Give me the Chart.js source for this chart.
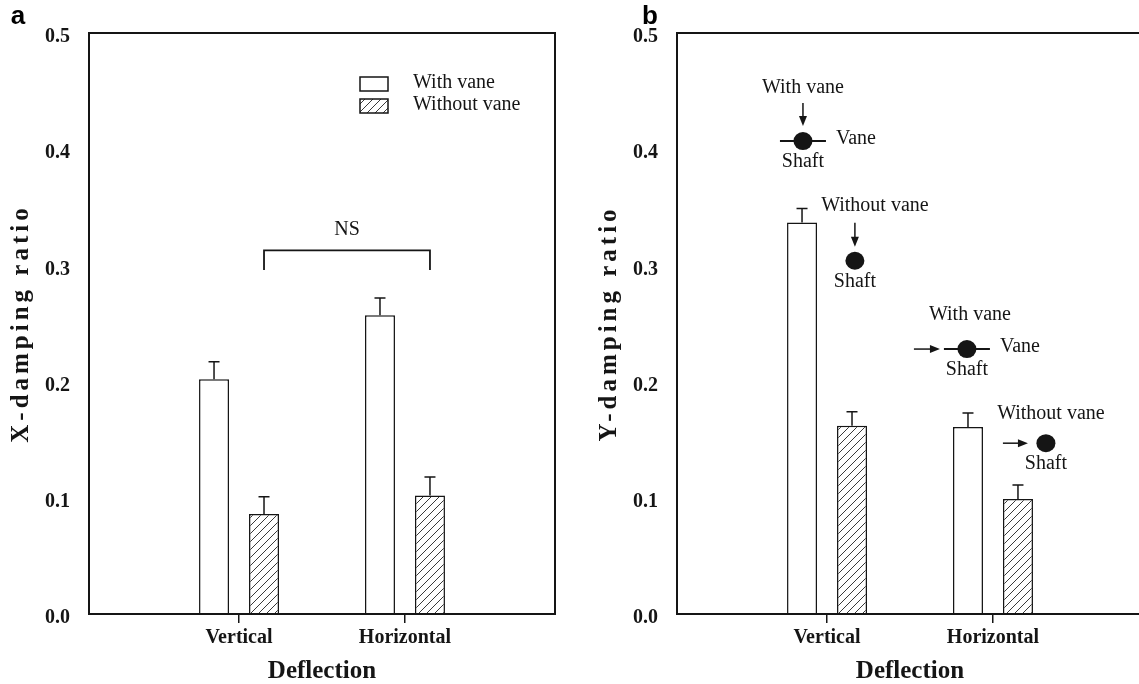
<!DOCTYPE html>
<html>
<head>
<meta charset="utf-8">
<script src="https://cdn.jsdelivr.net/npm/chart.js@4.4.0/dist/chart.umd.min.js"></script>
<style>
  html, body { margin: 0; padding: 0; background: #fff; overflow: hidden; width: 1139px; height: 684px; position: relative; }
  .panel { position: absolute; top: 0; width: 570px; height: 684px; }
  #wa { left: 0; }
  #wb { left: 588px; }
</style>
</head>
<body>
<div class="panel" id="wa"><canvas id="chartA" width="570" height="684"></canvas></div>
<div class="panel" id="wb"><canvas id="chartB" width="570" height="684"></canvas></div>
<script>
// categories and their positions on the x scale
var categories = ['Vertical', 'Horizontal'];
var catPos = [1, 2];

// panel a: X-damping ratio
var xWithVane = [0.202, 0.257];
var xWithVaneErr = [0.015, 0.015];
var xWithoutVane = [0.086, 0.102];
var xWithoutVaneErr = [0.015, 0.016];

// panel b: Y-damping ratio
var yWithVane = [0.337, 0.161];
var yWithVaneErr = [0.012, 0.012];
var yWithoutVane = [0.162, 0.099];
var yWithoutVaneErr = [0.012, 0.012];

var seriesNames = ['With vane', 'Without vane'];
var yTickStep = 0.1;

var SERIF = "'Liberation Serif', 'Times New Roman', serif";
var INK = '#151515';
Chart.defaults.color = INK;

function hatchPattern() {
    var c = document.createElement('canvas');
    c.width = 8; c.height = 8;
    var g = c.getContext('2d');
    g.fillStyle = '#fff';
    g.fillRect(0, 0, 8, 8);
    g.strokeStyle = '#3a3a3a';
    g.lineWidth = 1;
    g.beginPath();
    g.moveTo(-1, 9); g.lineTo(9, -1);
    g.moveTo(-5, 5); g.lineTo(5, -5);
    g.moveTo(3, 13); g.lineTo(13, 3);
    g.stroke();
    return g.createPattern(c, 'repeat');
}

function pts(vals) {
    return vals.map(function (v, i) { return { x: catPos[i], y: v }; });
}

// frame around the plot area
var frame = {
    id: 'frame',
    afterDraw: function (chart) {
        var a = chart.chartArea, ctx = chart.ctx;
        ctx.save();
        ctx.strokeStyle = INK;
        ctx.lineWidth = 2;
        ctx.strokeRect(a.left, a.top, a.right - a.left, a.bottom - a.top);
        ctx.restore();
    }
};

var errorBars = {
    id: 'errorBars',
    afterDatasetsDraw: function (chart) {
        var ctx = chart.ctx, ys = chart.scales.y;
        chart.data.datasets.forEach(function (ds, i) {
            chart.getDatasetMeta(i).data.forEach(function (bar, j) {
                var top = ys.getPixelForValue(ds.data[j].y + ds.errors[j]);
                ctx.save();
                ctx.strokeStyle = INK;
                ctx.lineWidth = 1.5;
                ctx.beginPath();
                ctx.moveTo(bar.x, bar.y);
                ctx.lineTo(bar.x, top);
                ctx.moveTo(bar.x - 5.5, top);
                ctx.lineTo(bar.x + 5.5, top);
                ctx.stroke();
                ctx.restore();
            });
        });
    }
};

// y title drawn by hand so it can be letter-spaced like the original
function yTitle(text) {
    return {
        id: 'yTitle',
        afterDraw: function (chart) {
            var a = chart.chartArea, ctx = chart.ctx;
            ctx.save();
            ctx.translate(22, (a.top + a.bottom) / 2);
            ctx.rotate(-Math.PI / 2);
            ctx.fillStyle = INK;
            ctx.font = 'bold 25px ' + SERIF;
            if ('letterSpacing' in ctx) ctx.letterSpacing = '4px';
            ctx.textAlign = 'center';
            ctx.textBaseline = 'middle';
            ctx.fillText(text, 0, 0);
            ctx.restore();
        }
    };
}

function panelLetter(letter, x) {
    return {
        id: 'letter',
        afterDraw: function (chart) {
            var ctx = chart.ctx;
            ctx.save();
            ctx.fillStyle = '#000';
            ctx.font = "bold 26px 'Liberation Sans', Arial, sans-serif";
            ctx.textAlign = 'center';
            ctx.textBaseline = 'alphabetic';
            ctx.fillText(letter, x, 24);
            ctx.restore();
        }
    };
}

// legend inside panel a
var boxLegend = {
    id: 'boxLegend',
    afterDraw: function (chart) {
        var a = chart.chartArea, ctx = chart.ctx;
        ctx.save();
        chart.data.datasets.forEach(function (ds, i) {
            var bx = a.left + 271, by = a.top + 44 + i * 22;
            ctx.fillStyle = ds.backgroundColor;
            ctx.fillRect(bx, by, 28, 14);
            ctx.strokeStyle = INK;
            ctx.lineWidth = 1.5;
            ctx.strokeRect(bx, by, 28, 14);
            ctx.fillStyle = INK;
            ctx.font = '20px ' + SERIF;
            ctx.textBaseline = 'middle';
            ctx.fillText(ds.label, a.left + 324, by + 6);
        });
        ctx.restore();
    }
};

// NS bracket between the two "without vane" bars
var nsLevel = 0.313, nsLeg = 0.296, nsText = 0.331;
var nsBracket = {
    id: 'nsBracket',
    afterDraw: function (chart) {
        var bars = chart.getDatasetMeta(1).data, ys = chart.scales.y, ctx = chart.ctx;
        var x1 = bars[0].x, x2 = bars[1].x;
        var yl = ys.getPixelForValue(nsLevel), yb = ys.getPixelForValue(nsLeg);
        ctx.save();
        ctx.strokeStyle = INK;
        ctx.lineWidth = 1.8;
        ctx.beginPath();
        ctx.moveTo(x1, yb); ctx.lineTo(x1, yl); ctx.lineTo(x2, yl); ctx.lineTo(x2, yb);
        ctx.stroke();
        ctx.fillStyle = INK;
        ctx.font = '20px ' + SERIF;
        ctx.textAlign = 'center';
        ctx.textBaseline = 'middle';
        ctx.fillText('NS', (x1 + x2) / 2, ys.getPixelForValue(nsText));
        ctx.restore();
    }
};

// shaft / vane sketches in panel b (anchor = shaft centre, in data units)
var sketches = [
    { label: 'With vane', x: 0.855, y: 0.407, dir: 'down', arrow: [-38, -15], vane: true, tdx: 0, tdy: -53 },
    { label: 'Without vane', x: 1.168, y: 0.304, dir: 'down', arrow: [-38, -14], vane: false, tdx: 20, tdy: -55 },
    { label: 'With vane', x: 1.843, y: 0.228, dir: 'right', arrow: [-53, -27], vane: true, tdx: 3, tdy: -34 },
    { label: 'Without vane', x: 2.319, y: 0.147, dir: 'right', arrow: [-43, -18], vane: false, tdx: 5, tdy: -29 }
];

var shaftSketch = {
    id: 'shaftSketch',
    afterDraw: function (chart) {
        var ctx = chart.ctx, xs = chart.scales.x, ys = chart.scales.y;
        ctx.save();
        ctx.fillStyle = INK;
        ctx.strokeStyle = INK;
        ctx.font = '20px ' + SERIF;
        ctx.textBaseline = 'middle';
        sketches.forEach(function (s) {
            var cx = xs.getPixelForValue(s.x), cy = ys.getPixelForValue(s.y);
            ctx.textAlign = 'center';
            ctx.fillText(s.label, cx + s.tdx, cy + s.tdy);
            ctx.fillText('Shaft', cx, cy + 21);
            ctx.lineWidth = 1.5;
            ctx.beginPath();
            if (s.dir === 'down') {
                ctx.moveTo(cx, cy + s.arrow[0]);
                ctx.lineTo(cx, cy + s.arrow[1] - 6);
            } else {
                ctx.moveTo(cx + s.arrow[0], cy);
                ctx.lineTo(cx + s.arrow[1] - 6, cy);
            }
            ctx.stroke();
            ctx.beginPath();
            if (s.dir === 'down') {
                var ty = cy + s.arrow[1];
                ctx.moveTo(cx, ty); ctx.lineTo(cx - 4, ty - 10); ctx.lineTo(cx + 4, ty - 10);
            } else {
                var tx = cx + s.arrow[1];
                ctx.moveTo(tx, cy); ctx.lineTo(tx - 10, cy - 4); ctx.lineTo(tx - 10, cy + 4);
            }
            ctx.closePath();
            ctx.fill();
            if (s.vane) {
                ctx.lineWidth = 2;
                ctx.beginPath();
                ctx.moveTo(cx - 23, cy); ctx.lineTo(cx + 23, cy);
                ctx.stroke();
                ctx.textAlign = 'left';
                ctx.fillText('Vane', cx + 33, cy - 2);
            }
            ctx.beginPath();
            ctx.ellipse(cx, cy, 9.5, 9, 0, 0, Math.PI * 2);
            ctx.fill();
        });
        ctx.restore();
    }
};

function makeChart(id, title, withVals, withErr, withoutVals, withoutErr, extra) {
    var ctx = document.getElementById(id).getContext('2d');
    return new Chart(ctx, {
        type: 'bar',
        data: {
            datasets: [
                { label: seriesNames[0], data: pts(withVals), errors: withErr,
                  backgroundColor: '#ffffff', borderColor: INK, borderWidth: 1.5 },
                { label: seriesNames[1], data: pts(withoutVals), errors: withoutErr,
                  backgroundColor: hatchPattern(), borderColor: INK, borderWidth: 1.5 }
            ]
        },
        options: {
            responsive: false,
            animation: false,
            categoryPercentage: 0.6024,
            barPercentage: 0.6,
            layout: { padding: { top: 33, right: 15, left: 0, bottom: 0 } },
            plugins: { legend: { display: false }, tooltip: { enabled: false } },
            scales: {
                x: {
                    type: 'linear',
                    min: 0.096,
                    max: 2.904,
                    offset: false,
                    afterBuildTicks: function (scale) {
                        scale.ticks = catPos.map(function (v) { return { value: v }; });
                    },
                    afterFit: function (scale) { scale.height = 70; },
                    grid: { display: true, drawOnChartArea: false, drawTicks: true, tickLength: 9,
                            color: INK, lineWidth: 1.5, offset: false },
                    border: { display: false },
                    ticks: {
                        padding: 3,
                        autoSkip: false,
                        maxRotation: 0,
                        font: { family: SERIF, size: 20, weight: 'bold' },
                        callback: function (v) { return categories[catPos.indexOf(v)]; }
                    },
                    title: {
                        display: true, text: 'Deflection',
                        font: { family: SERIF, size: 25, weight: 'bold', lineHeight: 1 },
                        padding: { top: 0, bottom: 0 }
                    }
                },
                y: {
                    min: 0,
                    max: 0.5,
                    afterFit: function (scale) { scale.width = 89; },
                    grid: { display: false },
                    border: { display: false },
                    ticks: {
                        stepSize: yTickStep,
                        padding: 11,
                        labelOffset: 4,
                        font: { family: SERIF, size: 20, weight: 'bold' },
                        callback: function (v) { return v.toFixed(1); }
                    },
                    title: { display: false, text: title }
                }
            }
        },
        plugins: [frame, errorBars, yTitle(title)].concat(extra)
    });
}

makeChart('chartA', 'X-damping ratio', xWithVane, xWithVaneErr, xWithoutVane, xWithoutVaneErr,
    [boxLegend, nsBracket, panelLetter('a', 18)]);
makeChart('chartB', 'Y-damping ratio', yWithVane, yWithVaneErr, yWithoutVane, yWithoutVaneErr,
    [shaftSketch, panelLetter('b', 62)]);
</script>
</body>
</html>
